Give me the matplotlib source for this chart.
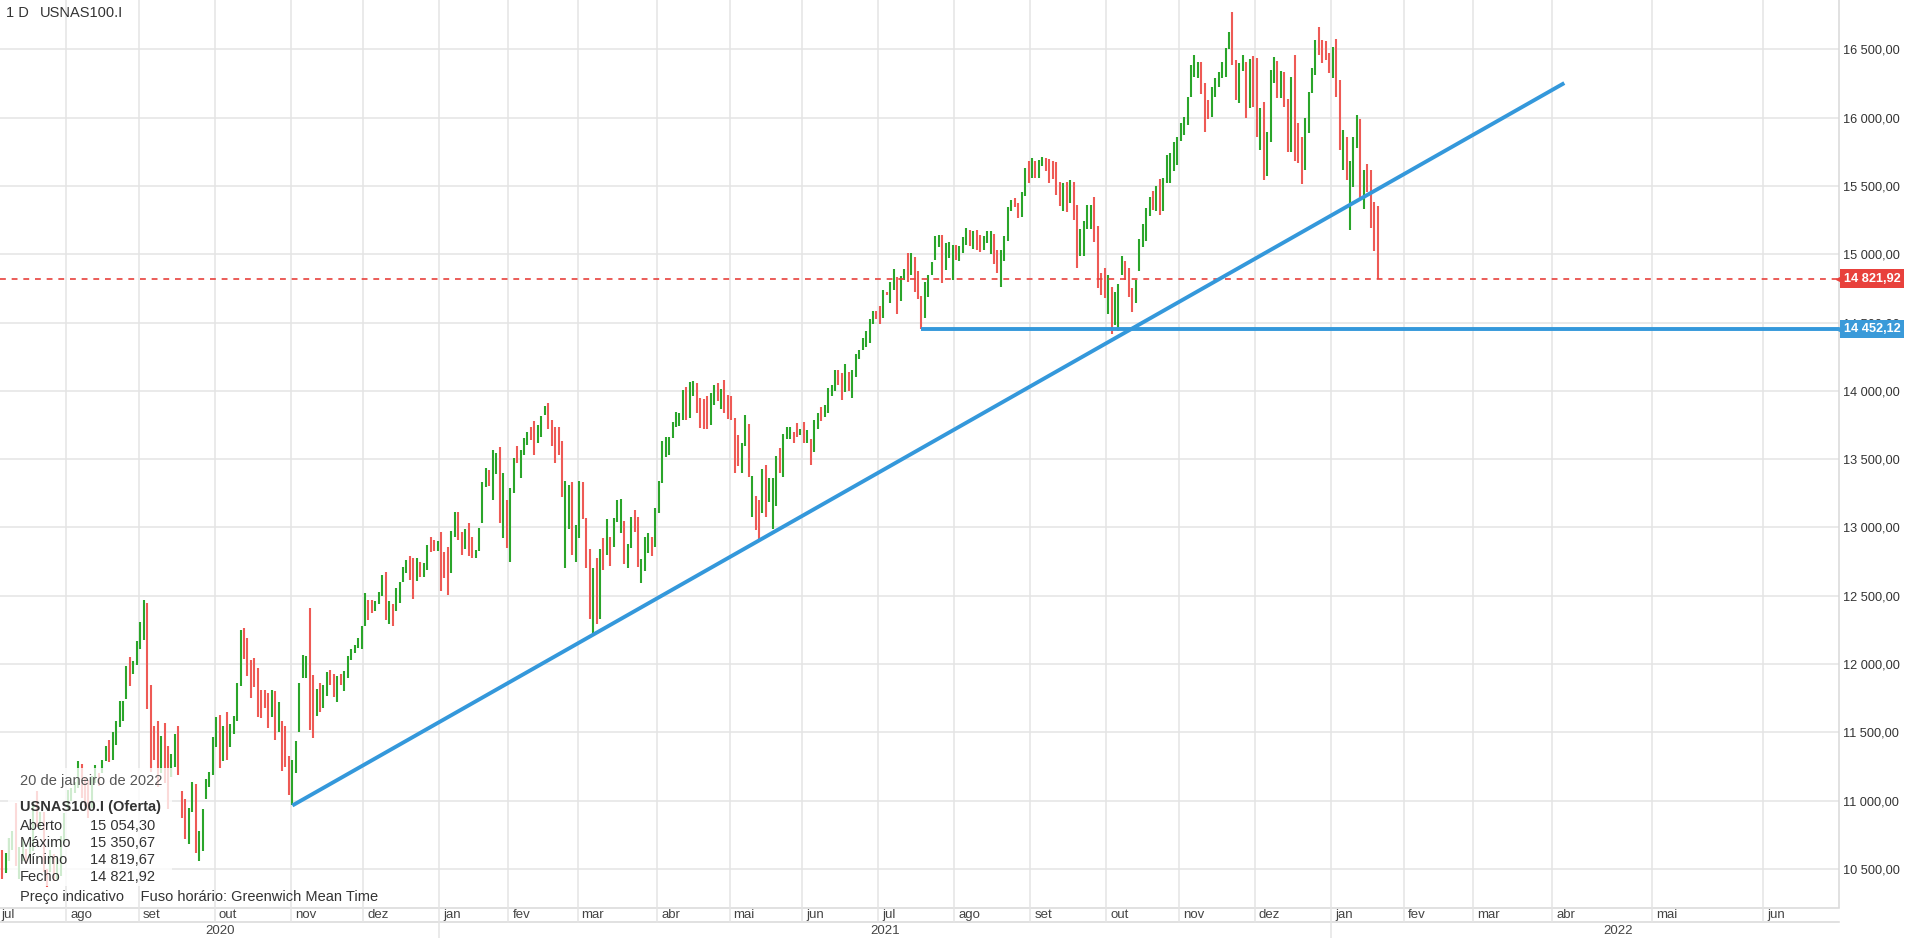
import numpy as np
import pandas as pd
import matplotlib
matplotlib.use('Agg')
import matplotlib.pyplot as plt
from matplotlib.patches import Rectangle
from matplotlib.transforms import blended_transform_factory

plt.rcParams['font.family'] = ['Liberation Sans', 'DejaVu Sans']

# USNAS100.I daily bars, one (high, low) per session, G = close above open, R = below
hl_2020_07 = [(10310, 10150), (10420, 10300), (10390, 10330), (10620, 10440), (10640, 10430), (10615, 10470),
              (10730, 10560), (10775, 10640), (10985, 10520), (10660, 10430), (10720, 10560), (10650, 10540),
              (10690, 10580), (10990, 10630), (11070, 10810), (10920, 10800), (10920, 10480), (10500, 10370),
              (10640, 10480), (10610, 10410), (10580, 10430), (10740, 10450), (10910, 10690)]
dir_2020_07 = "GGRGRGGGRGGRGGRGRRGRGGG"
hl_2020_08 = [(11080, 10930), (11090, 11000), (11140, 11060), (11290, 11090), (11270, 11020), (11170, 10960),
              (11150, 10870), (11180, 10950), (11260, 11130), (11200, 11110), (11300, 11200), (11400, 11290),
              (11445, 11280), (11500, 11300), (11583, 11408), (11731, 11540), (11731, 11583), (11986, 11744),
              (12049, 11840), (12020, 11927), (12168, 11997)]
dir_2020_08 = "GGGGRRRGGRGGRGGGGGRGG"
hl_2020_09 = [(12305, 12110), (12466, 12180), (12444, 11670), (11850, 11210), (11545, 11300), (11585, 11100),
              (11475, 11200), (11570, 11130), (11400, 10940), (11340, 11170), (11490, 11250), (11550, 11190),
              (11070, 10870), (11010, 10720), (10950, 10680), (11140, 10920), (11120, 10620), (10780, 10560),
              (10940, 10630), (11160, 11010), (11210, 11100), (11470, 11190)]
dir_2020_09 = "GGRRRRGRRGGRRRGGRGGGGG"
hl_2020_10 = [(11615, 11395), (11630, 11240), (11550, 11290), (11650, 11300), (11560, 11390), (11620, 11490),
              (11860, 11580), (12250, 11840), (12262, 12035), (12190, 11913), (12030, 11750), (12045, 11833),
              (11970, 11612), (11810, 11605), (11810, 11680), (11790, 11530), (11810, 11610), (11800, 11446),
              (11720, 11500), (11582, 11220), (11550, 11250), (11330, 11040)]
dir_2020_10 = "GRGRGGGGRRRRRRRRGRGRRR"
hl_2020_11 = [(11300, 10965), (11440, 11200), (11860, 11500), (12070, 11900), (12060, 11900), (12410, 11515),
              (11920, 11460), (11820, 11620), (11860, 11650), (11850, 11680), (11940, 11770), (11960, 11850),
              (11930, 11760), (11910, 11720), (11930, 11850), (11950, 11800), (12060, 11900), (12110, 12030),
              (12140, 12080), (12190, 12120), (12280, 12110)]
dir_2020_11 = "GGGGGRRGRGGRRGRGGGGGG"
hl_2020_12 = [(12518, 12280), (12470, 12320), (12470, 12375), (12460, 12390), (12530, 12440), (12650, 12500),
              (12675, 12320), (12460, 12290), (12440, 12280), (12560, 12390), (12600, 12450), (12710, 12600),
              (12760, 12665), (12790, 12615), (12780, 12475), (12780, 12610), (12750, 12640), (12740, 12640),
              (12870, 12690), (12930, 12820), (12910, 12830), (12900, 12830)]
dir_2020_12 = "GRRGGGRGRGGGGRRGRGGRRG"
hl_2021_01 = [(12968, 12537), (12820, 12630), (12860, 12505), (12975, 12666), (13115, 12932), (13115, 12910),
              (12968, 12800), (12990, 12845), (13030, 12790), (12930, 12780), (12835, 12780), (12995, 12830),
              (13335, 13032), (13435, 13295), (13420, 13300), (13567, 13200), (13547, 13395), (13590, 13034),
              (13400, 12920), (13200, 12850)]
dir_2021_01 = "RRRGGRRGRRGGGGRGGRGR"
hl_2021_02 = [(13290, 12750), (13508, 13250), (13595, 13470), (13565, 13360), (13655, 13530), (13700, 13605),
              (13737, 13640), (13780, 13530), (13750, 13616), (13815, 13660), (13890, 13822), (13908, 13720),
              (13785, 13596), (13735, 13474), (13735, 13530), (13630, 13225), (13340, 12700), (13310, 12990),
              (13330, 12800), (13020, 12750)]
dir_2021_02 = "GGRGGGRRGGGRRRRRGGRG"
hl_2021_03 = [(13340, 12920), (13330, 13060), (13070, 12700), (12840, 12330), (12700, 12211), (12780, 12290),
              (12840, 12330), (12920, 12690), (13060, 12800), (12930, 12720), (13070, 12860), (13200, 13040),
              (13210, 12960), (13050, 12730), (12880, 12700), (13080, 12850), (13130, 12970), (13080, 12710),
              (12770, 12590), (12930, 12680), (12960, 12810), (12930, 12790), (13140, 12860)]
dir_2021_03 = "GRRRGRGRGRGGGRGGRRGGGRG"
hl_2021_04 = [(13340, 13108), (13635, 13322), (13665, 13518), (13660, 13530), (13773, 13652), (13847, 13733),
              (13840, 13740), (14005, 13785), (14025, 13790), (14065, 13800), (14074, 13962), (14060, 13835),
              (13947, 13727), (13940, 13720), (13962, 13720), (13985, 13748), (14040, 13894), (14060, 13927),
              (14010, 13870), (14080, 13835), (13973, 13797)]
dir_2021_04 = "GGGGGGGGRGGRRRRGGRGRR"
hl_2021_05 = [(13960, 13790), (13805, 13396), (13680, 13452), (13615, 13396), (13820, 13596), (13760, 13370),
              (13375, 13080), (13230, 12985), (13200, 12917), (13427, 13105), (13456, 13075), (13360, 13185),
              (13360, 12990), (13522, 13157), (13580, 13400), (13683, 13370), (13737, 13645), (13735, 13650),
              (13700, 13620), (13768, 13664), (13720, 13680)]
dir_2021_05 = "RRRGGRGRRGRGGGRGGGRRG"
hl_2021_06 = [(13770, 13620), (13710, 13620), (13650, 13460), (13790, 13550), (13840, 13720), (13880, 13780),
              (13900, 13810), (14020, 13840), (14040, 13960), (14150, 14000), (14150, 14040), (14130, 13930),
              (14200, 13990), (14140, 14000), (14150, 13950), (14270, 14100), (14300, 14230), (14390, 14300),
              (14437, 14320), (14525, 14350), (14587, 14490), (14587, 14525)]
dir_2021_06 = "RGRGGRGGGGRRGRGGGGGGGR"
hl_2021_07 = [(14620, 14490), (14737, 14532), (14720, 14700), (14800, 14640), (14895, 14737), (14830, 14560),
              (14840, 14660), (14895, 14810), (15010, 14800), (15010, 14850), (14980, 14725), (14877, 14672),
              (14693, 14452), (14800, 14533), (14848, 14688), (14945, 14848), (15130, 14957), (15140, 15055),
              (15140, 14790), (15085, 14885), (15092, 14970), (15065, 14815)]
dir_2021_07 = "RGRGGRGGRGRRRGGGGGRGGG"
hl_2021_08 = [(15065, 14960), (15060, 14950), (15128, 15010), (15190, 15067), (15180, 15060), (15170, 15040),
              (15180, 15030), (15140, 15020), (15130, 15030), (15170, 15080), (15170, 15000), (15150, 14930),
              (15030, 14860), (15030, 14760), (15130, 14950), (15343, 15099), (15397, 15318), (15409, 15348),
              (15372, 15263), (15458, 15270), (15629, 15426), (15685, 15523)]
dir_2021_08 = "RGGGRGRRGGGRRGGGGRRGGR"
hl_2021_09 = [(15702, 15556), (15685, 15556), (15690, 15560), (15714, 15646), (15702, 15611), (15695, 15523),
              (15680, 15550), (15677, 15433), (15531, 15353), (15523, 15318), (15531, 15310), (15543, 15372),
              (15531, 15250), (15360, 14900), (15182, 14990), (15245, 14990), (15360, 15182), (15360, 15182),
              (15416, 15092), (15206, 14750), (14860, 14700), (14900, 14680)]
dir_2021_09 = "GRGGRRRRRGRGRRGGGGRRRR"
hl_2021_10 = [(14850, 14560), (14760, 14416), (14720, 14480), (14780, 14440), (14990, 14850), (14950, 14810),
              (14900, 14690), (14750, 14580), (14810, 14640), (15110, 14880), (15220, 15052), (15340, 15100),
              (15416, 15280), (15465, 15324), (15500, 15318), (15550, 15287), (15556, 15318), (15726, 15519),
              (15739, 15519), (15820, 15611), (15860, 15650)]
dir_2021_10 = "GRGGGRRRGGGGGRGRGGGGG"
hl_2021_11 = [(15960, 15830), (16007, 15873), (16153, 15946), (16385, 16153), (16458, 16300), (16410, 16288),
              (16410, 16173), (16251, 15897), (16129, 15988), (16222, 16007), (16288, 16149), (16336, 16222),
              (16410, 16288), (16507, 16300), (16629, 16500), (16770, 16385), (16420, 16130), (16400, 16110),
              (16460, 16340), (16410, 15995), (16430, 16070), (16450, 16080)]
dir_2021_11 = "GGGGGGRRRGGGGGGRRGGRGR"
hl_2021_12 = [(16435, 15860), (16070, 15760), (16115, 15540), (15897, 15570), (16350, 15825), (16445, 16253),
              (16418, 16143), (16340, 16143), (16335, 16080), (16135, 15745), (16300, 15745), (16460, 15680),
              (15960, 15668), (15860, 15512), (16000, 15620), (16190, 15890), (16360, 16180), (16568, 16310),
              (16665, 16458), (16568, 16397), (16560, 16420), (16470, 16325)]
dir_2021_12 = "RGRGGGRGRRGRRRGGGGRRRR"
hl_2022_01 = [(16518, 16293), (16573, 16150), (16277, 15765), (15910, 15616), (15860, 15543), (15680, 15177),
              (15860, 15490), (16018, 15775), (15993, 15395), (15620, 15330), (15660, 15456), (15615, 15190),
              (15384, 15026), (15350.67, 14819.67)]
dir_2022_01 = "GRRGRGGGRGRRRR"

closed_days = ['2020-12-25', '2021-01-01', '2021-04-02', '2021-12-24']

last_open, last_high, last_low, last_close = 15054.30, 15350.67, 14819.67, 14821.92
support_level = 14452.12
support_start = '2021-07-19'
trend_start = ('2020-11-02', 10965.0)
trend_end = (54, 16253.0)  # sessions past the last bar, price

# month widths (in bar slots) the platform uses for the empty future part of the axis
future_months = ['fev', 'mar', 'abr', 'mai', 'jun']
future_slots = [21, 20, 23, 29, 32]
pt_months = ['jan', 'fev', 'mar', 'abr', 'mai', 'jun', 'jul', 'ago', 'set', 'out', 'nov', 'dez']

months = [(hl_2020_07, dir_2020_07), (hl_2020_08, dir_2020_08), (hl_2020_09, dir_2020_09),
          (hl_2020_10, dir_2020_10), (hl_2020_11, dir_2020_11), (hl_2020_12, dir_2020_12),
          (hl_2021_01, dir_2021_01), (hl_2021_02, dir_2021_02), (hl_2021_03, dir_2021_03),
          (hl_2021_04, dir_2021_04), (hl_2021_05, dir_2021_05), (hl_2021_06, dir_2021_06),
          (hl_2021_07, dir_2021_07), (hl_2021_08, dir_2021_08), (hl_2021_09, dir_2021_09),
          (hl_2021_10, dir_2021_10), (hl_2021_11, dir_2021_11), (hl_2021_12, dir_2021_12),
          (hl_2022_01, dir_2022_01)]
highs = np.array([h for hl, d in months for h, l in hl])
lows = np.array([l for hl, d in months for h, l in hl])
dirs = ''.join(d for hl, d in months)

dates = pd.bdate_range('2020-07-01', '2022-01-20')
dates = dates[~dates.isin(pd.to_datetime(closed_days))]
assert len(dates) == len(highs) == len(dirs), (len(dates), len(highs), len(dirs))
x = np.arange(len(dates))

GREEN = '#2aa52a'
RED = '#ee5a55'
BLUE = '#3498db'
GRID = '#e4e4e4'
TXT = '#333333'

W, H = 1905, 938
fig = plt.figure(figsize=(W / 100, H / 100), dpi=100)
fig.patch.set_facecolor('white')
ax = fig.add_axes([0, 31 / H, 1839 / W, 907 / H])
axb = fig.add_axes([0, 0, 1839 / W, 31 / H])

# month boundaries (half a slot before the first session of each month)
per = dates.to_period('M')
first = np.r_[0, np.nonzero(per[1:] != per[:-1])[0] + 1]
bounds = list(first - 0.5)
mlabels = [pt_months[dates[i].month - 1] for i in first]
b = bounds[-1]
for n, lab in zip(future_slots, future_months):
    b += n
    bounds.append(b)
    mlabels.append(lab)

# pixel scale of the platform: aug 2020 line at px 66, jan 2022 line at px 1331
b_aug = bounds[1]
b_jan22 = bounds[mlabels.index('jan', 7)]
px_per = (1331 - 66) / (b_jan22 - b_aug)
xleft = b_aug - 66 / px_per
xright = b_aug + (1839 - 66) / px_per
xfig = b_aug + (W - 66) / px_per

ylo, yhi = 10222, 16861
ax.set_xlim(xleft, xright)
ax.set_ylim(ylo, yhi)
axb.set_xlim(xleft, xright)
axb.set_ylim(0, 31)

# grid
yt = np.arange(10500, 16501, 500)
for v in yt:
    ax.axhline(v, color=GRID, lw=1.1, zorder=0)
for bx in bounds:
    ax.axvline(bx, color=GRID, lw=1.1, zorder=0)

# bars
cols = [GREEN if d == 'G' else RED for d in dirs]
ax.vlines(x, lows, highs, colors=cols, lw=1.5, zorder=2)

# last price line
ax.axhline(last_close, color='#e8413c', lw=1.2, ls=(0, (3.5, 3.5)), zorder=3)

# drawn support / trend lines
s0 = x[dates.get_loc(pd.Timestamp(support_start))]
ax.plot([s0, xright], [support_level, support_level], color=BLUE, lw=2.8,
        solid_capstyle='butt', zorder=4)
t0 = x[dates.get_loc(pd.Timestamp(trend_start[0]))]
t1 = x[-1] + trend_end[0]
ax.plot([t0, t1], [trend_start[1], trend_end[1]], color=BLUE, lw=2.8,
        solid_capstyle='butt', zorder=4)


def fmt(v):
    return f"{v:,.2f}".replace(',', ' ').replace('.', ',')


for s in ['top', 'left', 'bottom']:
    ax.spines[s].set_visible(False)
ax.spines['right'].set_color('#d8d8d8')
ax.spines['right'].set_linewidth(1.1)
ax.set_xticks([])
ax.yaxis.tick_right()
ax.set_yticks(yt)
ax.set_yticklabels([fmt(v) for v in yt])
ax.tick_params(axis='y', length=0, pad=3, labelsize=9.2, labelcolor=TXT)

trans = blended_transform_factory(ax.transAxes, ax.transData)
for val, c in [(last_close, '#e8413c'), (support_level, '#3a9ad9')]:
    ax.text(1.0025, val, fmt(val), transform=trans, ha='left', va='center', color='white',
            fontsize=9.2, fontweight='bold', clip_on=False, zorder=10,
            bbox=dict(boxstyle='square,pad=0.25', fc=c, ec='none'))
    ax.plot([1.0], [val], marker='<', ms=5, color=c, transform=trans, clip_on=False, zorder=10)

# bottom time axis: month row (16-31) and year row (0-16)
axb.axis('off')
axb.plot([xleft, xright], [30.5, 30.5], color='#d8d8d8', lw=1.1, clip_on=False)
axb.plot([xleft, xright], [16, 16], color='#d8d8d8', lw=1.1, clip_on=False)
for bx, lab in zip(bounds, mlabels):
    axb.plot([bx, bx], [0 if lab == 'jan' else 16, 31], color=GRID, lw=1.1)
    lx = max(bx, xleft) + (4 if bx > xleft else 1) / px_per
    axb.text(lx, 23.5, lab, ha='left', va='center', fontsize=9.5, color='#444444')
jan_b = [bx for bx, lab in zip(bounds, mlabels) if lab == 'jan']
edges = [xleft] + jan_b + [xfig]
for yr, a, c in zip([2020, 2021, 2022], edges[:-1], edges[1:]):
    axb.text((a + c) / 2, 7.5, str(yr), ha='center', va='center', fontsize=9.5,
             color='#444444', clip_on=False)


# header and info panel (figure pixel positions)
def ftext(px, py, s, **kw):
    kw.setdefault('color', TXT)
    kw.setdefault('fontsize', 10.5)
    fig.text(px / W, 1 - py / H, s, va='center', **kw)


ftext(6, 13, '1 D', fontsize=10.5)
ftext(40, 13, 'USNAS100.I', fontsize=10.5)

fig.add_artist(Rectangle((8 / W, 1 - 886 / H), 164 / W, 118 / H, transform=fig.transFigure,
                         fc='white', ec='none', alpha=0.78, zorder=5))
ftext(20, 781, '20 de janeiro de 2022', color='#555555', zorder=6)
ftext(20, 807, 'USNAS100.I (Oferta)', fontweight='bold', zorder=6)
rows = [('Aberto', last_open), ('Máximo', last_high), ('Mínimo', last_low), ('Fecho', last_close)]
for i, (name, val) in enumerate(rows):
    yy = 826 + i * 17
    ftext(20, yy, name, zorder=6)
    ftext(155, yy, fmt(val), ha='right', zorder=6)
ftext(20, 897, 'Preço indicativo    Fuso horário: Greenwich Mean Time', zorder=6)

fig.savefig('out.png', dpi=100, facecolor='white')
